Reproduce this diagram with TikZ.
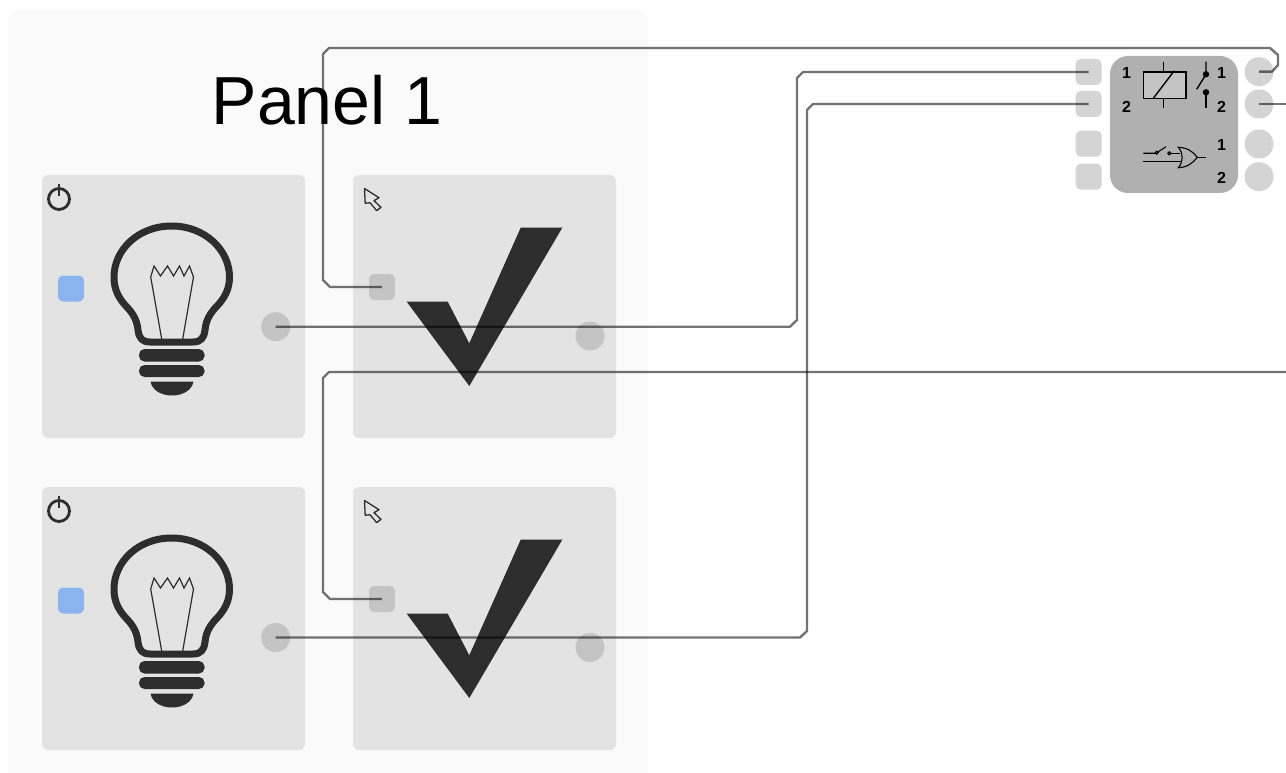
\documentclass[tikz,border=0pt]{standalone}
\usepackage{fontspec}
\setmainfont{Liberation Sans}
\definecolor{panelbg}{HTML}{FAFAFA}
\definecolor{cardbg}{HTML}{E3E3E3}
\definecolor{portdark}{HTML}{C4C4C4}
\definecolor{portlight}{HTML}{D4D4D4}
\definecolor{lampblue}{HTML}{8AB4EE}
\definecolor{icondark}{HTML}{2D2D2D}
\definecolor{widgetbg}{HTML}{B0B0B0}
\tikzset{
  card/.style={fill=cardbg,rounded corners=6pt},
  sqport/.style={shape=rectangle,rounded corners=5pt,inner sep=0pt,minimum size=26pt,fill=#1},
  rdport/.style={shape=circle,inner sep=0pt,minimum size=29pt,fill=#1},
  wire/.style={draw=black,draw opacity=.55,line width=2.4pt,line join=round},
  digit/.style={font=\bfseries\fontsize{16}{16}\selectfont,inner sep=0pt,text=black},
  sym/.style={draw=black,line width=1.4pt},
  bulb/.pic={
    \draw[icondark,line width=7pt,line join=round]
      (171.7,226) .. controls (138,226) and (114,250) .. (114,277)
      .. controls (114,290) and (119,298) .. (125,305)
      .. controls (133,313) and (137,320) .. (138,330)
      .. controls (139,338) and (142,342) .. (150,342)
      -- (193,342)
      .. controls (201,342) and (204,338) .. (205,330)
      .. controls (206,320) and (210,313) .. (218,305)
      .. controls (224,298) and (229.5,290) .. (229.5,277)
      .. controls (229.5,250) and (205,226) .. (171.7,226) -- cycle;
    \draw[icondark,line width=1.2pt,line join=miter]
      (161.7,339) -- (150.7,277) -- (154,266) -- (160.5,276) -- (167.5,266) -- (173.5,276)
      -- (179.5,266) -- (184,276) -- (189.5,266) -- (193.5,277) -- (182.7,339);
    \fill[icondark,rounded corners=5.5pt] (139,349) rectangle (204.5,361.5);
    \fill[icondark,rounded corners=5.5pt] (139,365) rectangle (204.5,377);
    \fill[icondark] (150.5,381.5) -- (193.5,381.5) .. controls (192,390) and (183,395.5) .. (172,395.5)
      .. controls (161,395.5) and (152,390) .. (150.5,381.5) -- cycle;
    \draw[icondark,line width=2.8pt] (59,199) circle (10.5);
    \draw[icondark,line width=2.8pt] (59,184) -- (59,196);
  },
  tick/.pic={
    \fill[icondark] (520.7,227.7) -- (562.3,227.7) -- (469.3,386) -- (406.7,301.7)
      -- (447.7,301.7) -- (469.3,343.3) -- cycle;
    \draw[fill=white!89!black,draw=icondark,line width=1.3pt,line join=round]
      (364.5,188.5) -- (379,197.7) -- (374,200.7) -- (381,207.3) -- (376.7,210.7)
      -- (370,202.7) -- (365.2,203.3) -- cycle;
  }
}
\begin{document}
\begin{tikzpicture}[x=1pt,y=-1pt]
\useasboundingbox (0,0) rectangle (1286,773);
\clip (0,0) rectangle (1286,773);
\fill[white] (0,0) rectangle (1286,773);
\fill[panelbg,rounded corners=12pt] (8,10) rectangle (648,800);
\node[font=\fontsize{68}{68}\selectfont,text=black,inner sep=0pt] (title) at (327,100) {Panel 1};

\fill[card] (42,175) rectangle (305,438);
\fill[card] (353,175) rectangle (616,438);
\fill[card] (42,487) rectangle (305,750);
\fill[card] (353,487) rectangle (616,750);

\pic at (0,0) {bulb};
\pic at (0,312) {bulb};
\pic at (0,0) {tick};
\pic at (0,312) {tick};

\node[sqport=lampblue] (lamp1) at (71,288.5) {};
\node[sqport=lampblue] (lamp2) at (71,600.5) {};
\node[rdport=portdark] (bulbout1) at (275.7,326.7) {};
\node[rdport=portdark] (bulbout2) at (275.7,637.5) {};
\node[sqport=portdark] (tickin1) at (382,287) {};
\node[sqport=portdark] (tickin2) at (382,599) {};
\node[rdport=portdark] (tickout1) at (590,336) {};
\node[rdport=portdark] (tickout2) at (590,647.5) {};

% widget
\fill[widgetbg,rounded corners=18pt] (1110,56) rectangle (1238,193);
\node[sqport=portlight] (in1) at (1088.7,72) {};
\node[sqport=portlight] (in2) at (1088.7,104) {};
\node[sqport=portlight] (in3) at (1088.7,143.7) {};
\node[sqport=portlight] (in4) at (1088.7,176.7) {};
\node[rdport=portlight] (out1) at (1259,71.7) {};
\node[rdport=portlight] (out2) at (1259,104) {};
\node[rdport=portlight] (out3) at (1259,144) {};
\node[rdport=portlight] (out4) at (1259,176.7) {};
\node[digit] (la1) at (1126.5,72.5) {1};
\node[digit] (la2) at (1126.5,106.5) {2};
\node[digit] (ra1) at (1221.5,72.5) {1};
\node[digit] (ra2) at (1221.5,106.5) {2};
\node[digit] (rb1) at (1221.5,145) {1};
\node[digit] (rb2) at (1221.5,177.5) {2};
% relay symbol
\draw[sym,fill=portdark] (1143.3,72) rectangle (1186,98.7);
\draw[sym] (1153.3,98.3) -- (1174.3,70.7);
\draw[sym] (1163.7,61.7) -- (1163.7,72) (1163.7,98.7) -- (1163.7,108.3);
\draw[sym] (1206,61.7) -- (1206,74.3) -- (1196.7,89.3);
\fill (1206,74.3) circle (3.2);
\fill (1206,92.3) circle (3.2);
\draw[sym] (1206,92.3) -- (1206,108.3);
% gate symbol
\draw[sym,line width=1.1pt] (1143.3,153.3) -- (1155,153.3) (1156.7,152.7) -- (1166,146.7);
\draw[sym,line width=1.1pt,fill=widgetbg] (1156.7,152.7) circle (1.5) (1169.3,153.3) circle (1.5);
\draw[sym,line width=1.1pt] (1170.7,153.3) -- (1180,153.3) (1143.3,161.7) -- (1180.7,161.7);
\draw[sym,line width=1.1pt] (1178.3,147.3) .. controls (1183.5,153) and (1183.5,162) .. (1178.3,167.7)
  .. controls (1187,167.5) and (1193,163) .. (1197.3,157.3)
  .. controls (1193,151.5) and (1187,147.5) .. (1178.3,147.3) -- cycle;
\draw[sym,line width=1.1pt] (1197.3,157.3) -- (1206,157.3);

% wires
\coordinate (offright1) at (1286,372);
\coordinate (offright2) at (1286,104);
\draw[wire] (tickin1.center) -- (330,287) -- (323,280) -- (323,54) -- (329,48)
  -- (1270,48) -- (1278,55) -- (1278,65) -- (1272,71.7) -- (out1.center);
\draw[wire] (bulbout1.center) -- (790,326.7) -- (797,320) -- (797,78) -- (803,72) -- (in1.center);
\draw[wire] (bulbout2.center) -- (800,637.5) -- (807,631) -- (807,110) -- (813,104) -- (in2.center);
\draw[wire] (tickin2.center) -- (330,599) -- (323,592) -- (323,378) -- (329,372) -- (offright1);
\draw[wire] (out2.center) -- (offright2);
\end{tikzpicture}
\end{document}
